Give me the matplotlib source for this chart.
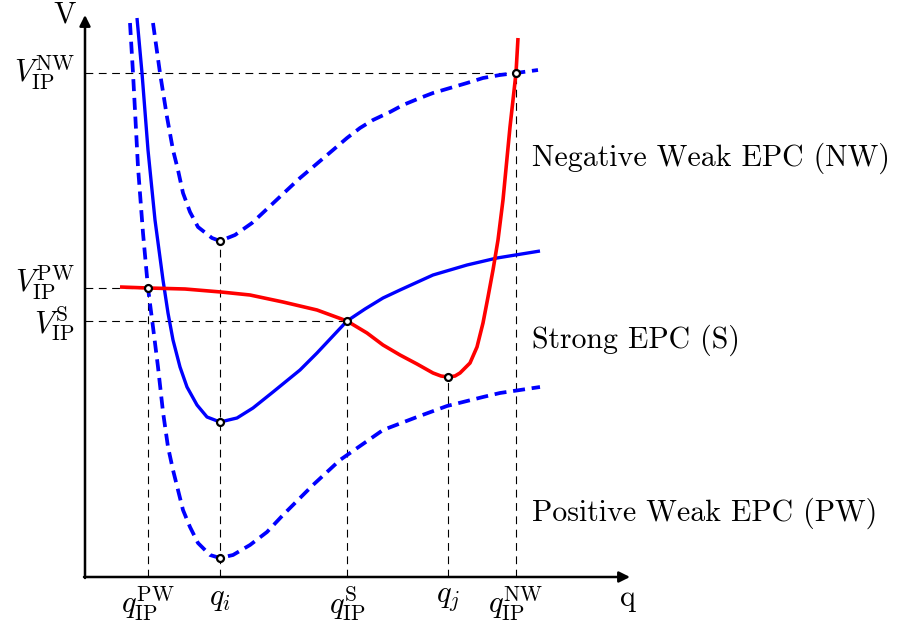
import matplotlib
matplotlib.use("Agg")
import matplotlib.pyplot as plt

plt.rcParams['mathtext.fontset'] = 'cm'

# strong EPC (solid blue)
q_s = [0.52, 0.57, 0.63, 0.70, 0.78, 0.83, 0.88, 0.95, 1.02, 1.12, 1.22, 1.35, 1.52, 1.68,
       1.88, 2.15, 2.32, 2.47, 2.62, 2.80, 2.98, 3.15, 3.48, 3.82, 4.12, 4.55]
v_s = [5.59, 5.04, 4.27, 3.57, 2.97, 2.64, 2.37, 2.10, 1.90, 1.72, 1.60, 1.55, 1.59, 1.69,
       1.85, 2.07, 2.24, 2.40, 2.56, 2.68, 2.79, 2.87, 3.02, 3.12, 3.19, 3.26]

# negative weak EPC (upper dashed)
q_nw = [0.68, 0.75, 0.82, 0.88, 0.93, 0.98, 1.05, 1.13, 1.27, 1.35, 1.50, 1.67, 1.83, 2.00,
        2.15, 2.28, 2.48, 2.62, 2.75, 2.88, 3.05, 3.18, 3.35, 3.48, 3.65, 3.82, 3.98, 4.15,
        4.31, 4.53]
v_nw = [5.54, 5.04, 4.60, 4.27, 4.07, 3.84, 3.65, 3.50, 3.39, 3.36, 3.42, 3.54, 3.69, 3.85,
        3.99, 4.10, 4.27, 4.39, 4.49, 4.57, 4.65, 4.72, 4.79, 4.84, 4.89, 4.94, 4.99, 5.02,
        5.04, 5.07]

# positive weak EPC (lower dashed)
q_pw = [0.45, 0.48, 0.53, 0.58, 0.63, 0.68, 0.73, 0.78, 0.83, 0.88, 0.93, 0.98, 1.05, 1.13,
        1.25, 1.35, 1.48, 1.65, 1.82, 1.98, 2.15, 2.28, 2.55, 2.98, 3.32, 3.62, 3.98, 4.15,
        4.55]
v_pw = [5.54, 5.04, 4.10, 3.44, 2.89, 2.50, 2.10, 1.65, 1.30, 1.07, 0.87, 0.67, 0.50, 0.34,
        0.22, 0.19, 0.22, 0.32, 0.45, 0.62, 0.79, 0.92, 1.17, 1.47, 1.60, 1.71, 1.80, 1.84,
        1.90]

# red curve
q_r = [0.35, 0.63, 1.00, 1.36, 1.65, 1.98, 2.32, 2.62, 2.82, 2.98, 3.15, 3.32, 3.48, 3.56,
       3.63, 3.70, 3.75, 3.85, 3.92, 3.98, 4.03, 4.08, 4.13, 4.18, 4.25, 4.31, 4.33]
v_r = [2.90, 2.89, 2.88, 2.85, 2.82, 2.75, 2.67, 2.56, 2.44, 2.32, 2.22, 2.13, 2.04, 2.01,
       2.00, 2.01, 2.04, 2.14, 2.30, 2.54, 2.80, 3.07, 3.37, 3.77, 4.50, 5.04, 5.39]

# marked points: (q, V, vertical guide, horizontal guide)
pt_q = [0.63, 1.35, 1.35, 1.35, 2.62, 3.63, 4.31]
pt_v = [2.89, 3.36, 1.55, 0.19, 2.56, 2.00, 5.04]
pt_vline = [True, True, False, False, True, True, True]
pt_hline = [True, False, False, False, True, False, True]

xtick_q = [0.63, 1.35, 2.62, 3.63, 4.31]
xtick_lbl = [r'$q_{\mathrm{IP}}^{\mathrm{PW}}$', r'$q_i$', r'$q_{\mathrm{IP}}^{\mathrm{S}}$',
             r'$q_j$', r'$q_{\mathrm{IP}}^{\mathrm{NW}}$']
ytick_v = [5.04, 2.89, 2.56]
ytick_lbl = [r'$V_{\mathrm{IP}}^{\mathrm{NW}}$', r'$V_{\mathrm{IP}}^{\mathrm{PW}}$',
             r'$V_{\mathrm{IP}}^{\mathrm{S}}$']
ytick_shift = [0.0, 0.05, -0.03]  # pull the two close labels apart a little

region_v = [4.19, 2.37, 0.64]
region_lbl = ['Negative Weak EPC (NW)', 'Strong EPC (S)', 'Positive Weak EPC (PW)']

fig = plt.figure(figsize=(9.02, 6.31), dpi=100)
ax = fig.add_axes([0, 0, 1, 1])
ax.set_xlim(-0.85, 8.17)
ax.set_ylim(-0.54, 5.77)
ax.axis('off')

guide = dict(color='k', lw=0.8, ls=(0, (7, 5)), zorder=1)
for q, v, vl, hl in zip(pt_q, pt_v, pt_vline, pt_hline):
    if vl:
        ax.plot([q, q], [0, v], **guide)
    if hl:
        ax.plot([0, q], [v, v], **guide)

ax.plot(q_pw, v_pw, color='#0000ff', lw=2.7, ls=(0, (3.2, 1.8)), zorder=3)
ax.plot(q_nw, v_nw, color='#0000ff', lw=2.7, ls=(0, (3.2, 1.8)), zorder=3)
ax.plot(q_s, v_s, color='#0000ff', lw=2.4, zorder=4, solid_capstyle='butt',
        solid_joinstyle='round')
ax.plot(q_r, v_r, color='#ff0000', lw=2.6, zorder=4, solid_capstyle='butt',
        solid_joinstyle='round')

ax.plot(pt_q, pt_v, 'o', ms=5, mfc='white', mec='k', mew=1.6, zorder=6)

# axes with arrow heads
arr = dict(arrowstyle='-|>', color='k', lw=1.8, mutation_scale=16, shrinkA=0, shrinkB=0)
ax.annotate('', xy=(5.45, 0), xytext=(-0.01, 0), arrowprops=arr, zorder=5)
ax.annotate('', xy=(0, 5.62), xytext=(0, -0.01), arrowprops=arr, zorder=5)

ax.text(-0.20, 5.62, 'V', fontsize=21.5, family='cmr10', ha='center', va='center')
ax.text(5.43, -0.21, 'q', fontsize=21.5, family='cmr10', ha='center', va='center')

for q, lbl in zip(xtick_q, xtick_lbl):
    ax.text(q, -0.07, lbl, fontsize=22, ha='center', va='top')
for v, dv, lbl in zip(ytick_v, ytick_shift, ytick_lbl):
    ax.text(-0.10, v + dv, lbl, fontsize=22, ha='right', va='center')

for v, lbl in zip(region_v, region_lbl):
    ax.text(4.47, v, lbl, fontsize=21.5, family='cmr10', ha='left', va='center')

fig.savefig('out.png', dpi=100)
